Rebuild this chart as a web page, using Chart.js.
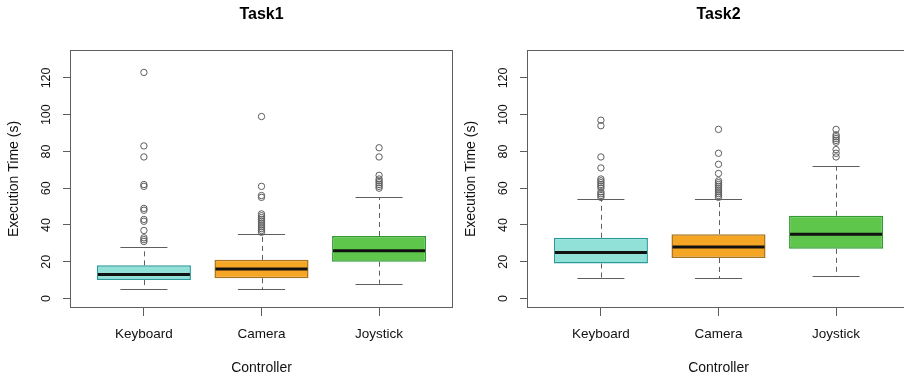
<!DOCTYPE html>
<html>
<head>
<meta charset="utf-8">
<script src="https://cdn.jsdelivr.net/npm/chart.js@4.4.1/dist/chart.umd.min.js"></script>
<style>
    html, body { margin: 0; padding: 0; background: #fff; overflow: hidden; width: 904px; height: 378px; }
    .panel { position: absolute; top: 0; width: 457px; height: 378px; }
</style>
</head>
<body>
<div class="panel" style="left:0"><canvas id="task1" width="457" height="378"></canvas></div>
<div class="panel" style="left:457px"><canvas id="task2" width="457" height="378"></canvas></div>
<script>
// Box plot data
const categories = ['Keyboard', 'Camera', 'Joystick'];
const yTickValues = [0, 20, 40, 60, 80, 100, 120];

const task1Lower = [5, 5, 8];
const task1Q1 = [10, 11, 20];
const task1Median = [13, 16, 26];
const task1Q3 = [18, 21, 34];
const task1Upper = [28, 35, 55];
const task1Outliers = [
    [123, 83, 77, 62, 61, 49, 48, 43, 42, 37, 33, 32, 31],
    [99, 61, 56, 55, 46, 45, 44, 43, 42, 41, 40, 39, 38, 37, 36],
    [82, 77, 67, 65, 64, 63, 62, 61, 60]
];

const task2Lower = [11, 11, 12];
const task2Q1 = [19, 22, 27];
const task2Median = [25, 28, 35];
const task2Q3 = [33, 35, 45];
const task2Upper = [54, 54, 72];
const task2Outliers = [
    [97, 94, 77, 71, 65, 64, 63, 62, 61, 60, 58, 57, 56, 55],
    [92, 79, 73, 68, 64, 63, 62, 61, 60, 59, 58, 57, 56, 55],
    [92, 89, 88, 87, 86, 85, 81, 79, 77]
];

// Styles
const boxFill = ['#92e1d9', '#f6a625', '#5fc64c'];
const boxBorder = ['#2a9b9b', '#a8721f', '#2f9a2f'];
const lineGray = '#5e5e5e';

Chart.defaults.font.family = '"Liberation Sans", Arial, Helvetica, sans-serif';
Chart.defaults.color = '#111';

// whiskers, caps, medians and the frame, drawn through the chart scales
const boxExtras = {
    id: 'boxExtras',
    beforeDatasetsDraw(chart, args, opts) {
        const { ctx, scales: { x, y } } = chart;
        ctx.save();
        ctx.strokeStyle = lineGray;
        ctx.lineWidth = 1;
        opts.lower.forEach((low, i) => {
            const cx = Math.round(x.getPixelForValue(i + 1)) + 0.5;
            const c0 = x.getPixelForValue(i + 1 - 0.2);
            const c1 = x.getPixelForValue(i + 1 + 0.2);
            // dashed whiskers
            ctx.setLineDash([5, 4]);
            ctx.beginPath();
            ctx.moveTo(cx, y.getPixelForValue(opts.q1[i]));
            ctx.lineTo(cx, y.getPixelForValue(low));
            ctx.moveTo(cx, y.getPixelForValue(opts.q3[i]));
            ctx.lineTo(cx, y.getPixelForValue(opts.upper[i]));
            ctx.stroke();
            // caps
            ctx.setLineDash([]);
            ctx.beginPath();
            const yl = Math.round(y.getPixelForValue(low)) + 0.5;
            const yu = Math.round(y.getPixelForValue(opts.upper[i])) + 0.5;
            ctx.moveTo(c0, yl);
            ctx.lineTo(c1, yl);
            ctx.moveTo(c0, yu);
            ctx.lineTo(c1, yu);
            ctx.stroke();
        });
        ctx.restore();
    },
    afterDatasetsDraw(chart, args, opts) {
        const { ctx, chartArea, scales: { y } } = chart;
        const bars = chart.getDatasetMeta(0).data;
        ctx.save();
        ctx.strokeStyle = '#111';
        ctx.lineWidth = 3;
        opts.median.forEach((m, i) => {
            const bar = bars[i];
            const my = y.getPixelForValue(m);
            ctx.beginPath();
            ctx.moveTo(bar.x - bar.width / 2 + 1, my);
            ctx.lineTo(bar.x + bar.width / 2 - 1, my);
            ctx.stroke();
        });
        // frame
        ctx.strokeStyle = lineGray;
        ctx.lineWidth = 1;
        ctx.strokeRect(Math.round(chartArea.left) - 0.5, Math.round(chartArea.top) + 0.5,
            Math.round(chartArea.right - chartArea.left) + 1, Math.round(chartArea.bottom - chartArea.top) - 1);
        ctx.restore();
    }
};

function makeBoxChart(canvasId, title, lower, q1, median, q3, upper, outliers) {
    const datasets = [{
        type: 'bar',
        data: categories.map((c, i) => ({ x: i + 1, y: [q1[i], q3[i]] })),
        backgroundColor: boxFill,
        borderColor: boxBorder,
        borderWidth: 1.5,
        borderSkipped: false,
        categoryPercentage: 0.8,
        barPercentage: 1.0,
        order: 2
    }];
    outliers.forEach((list, i) => {
        datasets.push({
            type: 'scatter',
            data: list.map(v => ({ x: i + 1, y: v })),
            pointStyle: 'circle',
            radius: 3.2,
            borderWidth: 1,
            borderColor: lineGray,
            backgroundColor: 'rgba(255,255,255,0)',
            order: 1
        });
    });

    return new Chart(document.getElementById(canvasId), {
        type: 'bar',
        data: { datasets: datasets },
        plugins: [boxExtras],
        options: {
            responsive: false,
            animation: false,
            layout: { padding: { left: 0, right: 3, top: 0, bottom: 0 } },
            plugins: {
                legend: { display: false },
                tooltip: { enabled: false },
                title: {
                    display: true,
                    text: title,
                    fullSize: false,
                    color: '#000',
                    font: { size: 16, weight: 'bold' },
                    padding: { top: 5.4, bottom: 25.4 }
                },
                boxExtras: { lower: lower, q1: q1, median: median, q3: q3, upper: upper }
            },
            scales: {
                x: {
                    type: 'linear',
                    min: 0.38,
                    max: 3.62,
                    offset: false,
                    afterBuildTicks: scale => { scale.ticks = categories.map((c, i) => ({ value: i + 1 })); },
                    afterFit: scale => { scale.height = 70; },
                    ticks: {
                        autoSkip: false,
                        minRotation: 0,
                        maxRotation: 0,
                        padding: 10,
                        color: '#111',
                        font: { size: 13.5 },
                        callback: value => categories[value - 1]
                    },
                    grid: { offset: false, drawOnChartArea: false, tickLength: 8, color: lineGray },
                    border: { display: false },
                    title: {
                        display: true,
                        text: 'Controller',
                        color: '#111',
                        font: { size: 14 },
                        padding: { top: 0, bottom: 1.6 }
                    }
                },
                y: {
                    type: 'linear',
                    min: -5.2,
                    max: 135.2,
                    afterBuildTicks: scale => { scale.ticks = yTickValues.map(v => ({ value: v })); },
                    afterFit: scale => { scale.width = 71; },
                    ticks: {
                        autoSkip: false,
                        minRotation: 90,
                        maxRotation: 90,
                        crossAlign: 'center',
                        padding: 6,
                        color: '#111',
                        font: { size: 12.5 },
                        callback: value => String(value)
                    },
                    grid: { drawOnChartArea: false, tickLength: 8, color: lineGray },
                    border: { display: false },
                    title: {
                        display: true,
                        text: 'Execution Time (s)',
                        color: '#111',
                        font: { size: 14 },
                        padding: { top: 5.3, bottom: 0 }
                    }
                }
            }
        }
    });
}

makeBoxChart('task1', 'Task1', task1Lower, task1Q1, task1Median, task1Q3, task1Upper, task1Outliers);
makeBoxChart('task2', 'Task2', task2Lower, task2Q1, task2Median, task2Q3, task2Upper, task2Outliers);
</script>
</body>
</html>
